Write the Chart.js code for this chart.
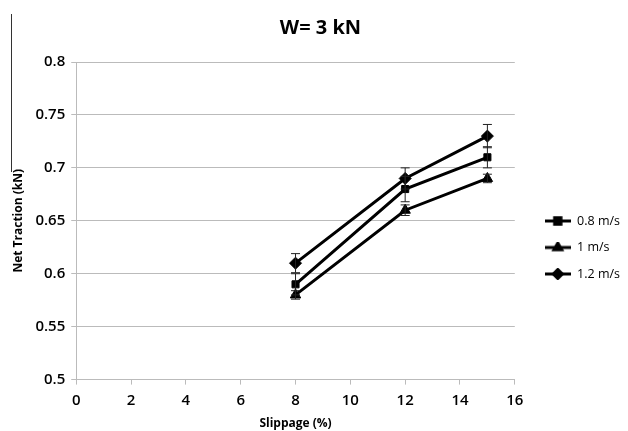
<!DOCTYPE html>
<html>
<head>
<meta charset="utf-8">
<script src="https://cdn.jsdelivr.net/npm/chart.js@4"></script>
<style>
	html, body { margin: 0; padding: 0; background: #fff; }
	#wrap { position: relative; width: 628px; height: 431px; }
	#edge { position: absolute; left: 11px; top: 14px; width: 0; height: 158px; border-left: 1px solid #333; }
</style>
</head>
<body>
<div id="wrap">
	<canvas id="line-chart" width="628" height="431"></canvas>
	<div id="edge"></div>
</div>
<script>
// slippage (%)
const slippage = [8, 12, 15];

const series = ["0.8 m/s", "1 m/s", "1.2 m/s"];
const traction08 = [0.59, 0.68, 0.71];
const traction1 = [0.58, 0.66, 0.69];
const traction12 = [0.61, 0.69, 0.73];

// error bar half-heights
const err08 = [0.010, 0.012, 0.010];
const err1 = [0.004, 0.005, 0.004];
const err12 = [0.009, 0.010, 0.011];

const xTicks = [0, 2, 4, 6, 8, 10, 12, 14, 16];
const yTicks = [0.5, 0.55, 0.6, 0.65, 0.7, 0.75, 0.8];

const styles = ["rect", "triangle", "rectRot"];
const values = [traction08, traction1, traction12];
const errors = [err08, err1, err12];

function makeIcon(style) {
	const c = document.createElement("canvas");
	c.width = 26;
	c.height = 12;
	const g = c.getContext("2d");
	g.strokeStyle = "#000";
	g.fillStyle = "#000";
	g.lineWidth = 3;
	g.beginPath();
	g.moveTo(0, 6);
	g.lineTo(26, 6);
	g.stroke();
	Chart.helpers.drawPoint(g, { pointStyle: style, rotation: 0, borderWidth: 1, radius: 4.5 }, 13, 6);
	return c;
}

const errorBars = {
	id: "errorBars",
	afterDatasetsDraw(chart) {
		const ctx = chart.ctx;
		const y = chart.scales.y;
		ctx.save();
		ctx.strokeStyle = "#222";
		ctx.lineWidth = 1;
		chart.data.datasets.forEach((ds, i) => {
			const meta = chart.getDatasetMeta(i);
			meta.data.forEach((pt, j) => {
				const v = ds.data[j].y;
				const e = ds.errors[j];
				const top = y.getPixelForValue(v + e);
				const bot = y.getPixelForValue(v - e);
				ctx.beginPath();
				ctx.moveTo(pt.x, top);
				ctx.lineTo(pt.x, bot);
				ctx.moveTo(pt.x - 4.5, top);
				ctx.lineTo(pt.x + 4.5, top);
				ctx.moveTo(pt.x - 4.5, bot);
				ctx.lineTo(pt.x + 4.5, bot);
				ctx.stroke();
			});
		});
		ctx.restore();
	}
};

// nudge the legend and title, as in the original
const boxShift = {
	id: "boxShift",
	afterLayout(chart) {
		const lg = chart.legend;
		lg.left += 16;
		lg.right += 16;
		lg.top += 32;
		lg.bottom += 32;
		const tb = chart.titleBlock;
		tb.left += 10;
		tb.right += 10;
	}
};

const lineData = {
	datasets: series.map((name, i) => ({
		label: name,
		data: slippage.map((s, j) => ({ x: s, y: values[i][j] })),
		errors: errors[i],
		borderColor: "#000",
		backgroundColor: "#000",
		borderWidth: 3,
		pointStyle: styles[i],
		pointRadius: i === 0 ? 5 : 6,
		pointBorderWidth: 1,
		lineTension: 0
	}))
};

const tickFont = { family: "'Open Sans'", size: 15, weight: "600" };

const lineOptions = {
	responsive: false,
	animation: false,
	layout: { padding: { left: 7, right: 14, top: 0, bottom: 0 } },
	plugins: {
		title: {
			display: true,
			text: "W= 3 kN",
			color: "#000",
			font: { family: "'Open Sans'", size: 20, weight: "bold" },
			padding: { top: 16, bottom: 22 }
		},
		legend: {
			position: "right",
			labels: {
				color: "#000",
				font: { family: "'Open Sans'", size: 12.5 },
				usePointStyle: true,
				pointStyleWidth: 26,
				padding: 14,
				generateLabels(chart) {
					return chart.data.datasets.map((ds, i) => ({
						text: ds.label,
						pointStyle: makeIcon(styles[i]),
						fontColor: "#000",
						datasetIndex: i,
						lineWidth: 0
					}));
				}
			}
		},
		tooltip: { enabled: false }
	},
	scales: {
		x: {
			type: "linear",
			min: 0,
			max: 16,
			afterBuildTicks(axis) { axis.ticks = xTicks.map(v => ({ value: v })); },
			ticks: { color: "#000", font: tickFont, padding: 7 },
			grid: { drawOnChartArea: false, drawTicks: true, tickLength: 5, color: "#bbb" },
			border: { color: "#bbb" },
			title: { display: true, text: "Slippage (%)", color: "#000", font: { family: "'Open Sans'", size: 12, weight: "bold" }, padding: 0 }
		},
		y: {
			min: 0.5,
			max: 0.8,
			afterBuildTicks(axis) { axis.ticks = yTicks.map(v => ({ value: v })); },
			ticks: { color: "#000", font: tickFont, padding: 6, callback: v => String(+v.toFixed(2)) },
			grid: { color: "#bbb", tickLength: 5 },
			border: { color: "#bbb" },
			title: { display: true, text: "Net Traction (kN)", color: "#000", font: { family: "'Open Sans'", size: 12, weight: "bold" }, padding: 4 }
		}
	}
};

const lineContext = document.getElementById("line-chart").getContext("2d");
const lineChart = new Chart(lineContext, {
	type: "line",
	data: lineData,
	options: lineOptions,
	plugins: [errorBars, boxShift]
});
</script>
</body>
</html>
